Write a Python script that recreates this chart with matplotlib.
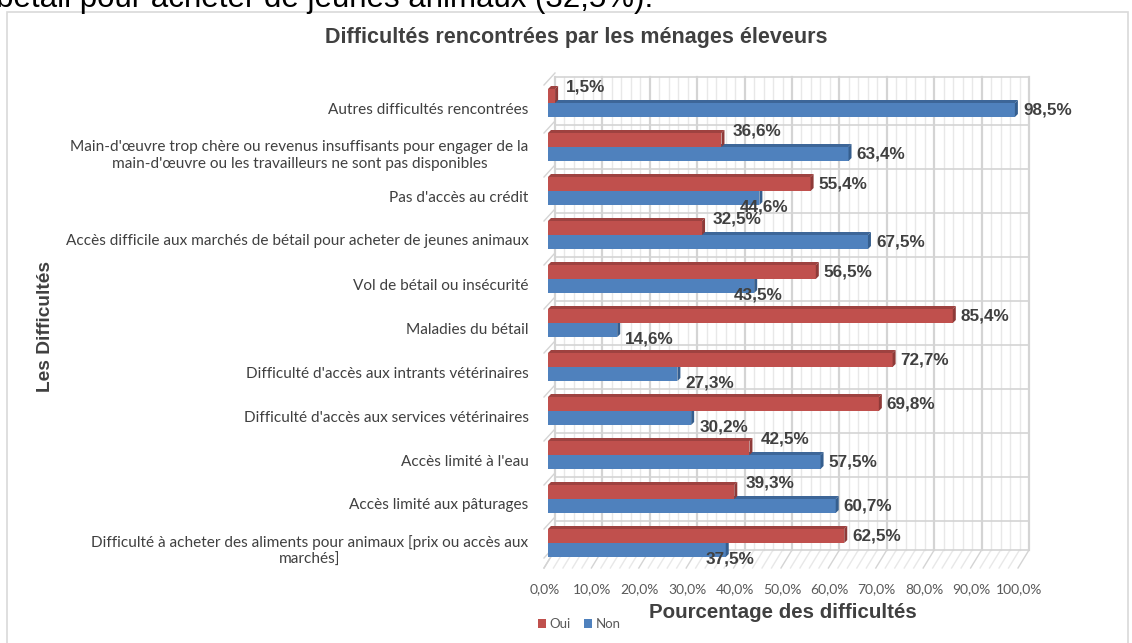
import matplotlib
matplotlib.use("Agg")
import matplotlib.pyplot as plt
from matplotlib.patches import Polygon, Rectangle, Patch
from matplotlib.lines import Line2D
from matplotlib.transforms import IdentityTransform, ScaledTranslation

# ---------------- data ----------------
categories = [
    "Autres difficultés rencontrées",
    "Main-d'œuvre trop chère ou revenus insuffisants pour engager de la\nmain-d'œuvre ou les travailleurs ne sont pas disponibles",
    "Pas d'accès au crédit",
    "Accès difficile aux marchés de bétail pour acheter de jeunes animaux",
    "Vol de bétail ou insécurité",
    "Maladies du bétail",
    "Difficulté d'accès aux intrants vétérinaires",
    "Difficulté d'accès aux services vétérinaires",
    "Accès limité à l'eau",
    "Accès limité aux pâturages",
    "Difficulté à acheter des aliments pour animaux [prix ou accès aux\nmarchés]",
]
oui = [1.5, 36.6, 55.4, 32.5, 56.5, 85.4, 72.7, 69.8, 42.5, 39.3, 62.5]
non = [98.5, 63.4, 44.6, 67.5, 43.5, 14.6, 27.3, 30.2, 57.5, 60.7, 37.5]
xticks = [0, 10, 20, 30, 40, 50, 60, 70, 80, 90, 100]
series_names = ["Oui", "Non"]

title = "Difficultés rencontrées par les ménages éleveurs"
xlabel = "Pourcentage des difficultés"
ylabel = "Les Difficultés"
doc_text = "bétail pour acheter de jeunes animaux (32,5%)."

# ---------------- style ----------------
W, H = 1132, 643
RED, RED_DK, RED_TOP = "#C0504D", "#8E3A38", "#9E4240"
BLUE, BLUE_DK, BLUE_TOP = "#4F81BD", "#355E8E", "#3D6698"
GRID_MAJ, GRID_MIN = "#D4D4D4", "#E8E8E8"
LABEL_FONT = ["Lato", "DejaVu Sans"]
BOLD_FONT = ["Liberation Sans", "DejaVu Sans"]

fig = plt.figure(figsize=(W / 100, H / 100), dpi=100)
fig.patch.set_facecolor("white")

def fx(px):
    return px / W

def fy(py):
    return 1 - py / H

# chart border
fig.add_artist(Rectangle((fx(7), fy(648)), fx(1128) - fx(7), fy(12) - fy(648),
                         transform=fig.transFigure, fill=False,
                         edgecolor="#D9D9D9", lw=1.2))

# document text cut at top
fig.text(fx(-4), fy(7), doc_text, ha="left", va="baseline", fontsize=22.5,
         family=["Liberation Sans", "DejaVu Sans"], color="black")

# axes = bar plane (front of bars)
X0, X1 = 548, 1029          # axes pixel extent
Y0, Y1 = 77, 568            # axes top / bottom pixels
PX_PER_PCT = 4.74
CAT_PX = 44.0
FIRST_CAT = 103
ax = fig.add_axes([fx(X0), fy(Y1), fx(X1) - fx(X0), fy(Y0) - fy(Y1)])
ax.set_xlim(0, (X1 - X0) / PX_PER_PCT)
ax.set_ylim(10 + (Y1 - (FIRST_CAT + 10 * CAT_PX)) / CAT_PX, -(FIRST_CAT - Y0) / CAT_PX)
for s in ax.spines.values():
    s.set_visible(False)
ax.patch.set_alpha(0)

n = len(categories)
idx = list(range(n))
bh = 14 / CAT_PX

def disp(x, y):
    return ax.transData.transform((x, y))

# back wall geometry (pixel offsets from bar plane)
BACK_DX = 7
FRONT_DX = -4
y_back_bottom = 10 + (550 - (FIRST_CAT + 10 * CAT_PX)) / CAT_PX
y_top = ax.get_ylim()[1]
y_bottom = ax.get_ylim()[0]

ident = IdentityTransform()
# vertical grid lines on back wall + floor hatch
for v in range(0, 101, 2):
    (xa, ya) = disp(v, y_top)
    (xb, yb) = disp(v, y_back_bottom)
    major = (v % 10 == 0)
    ax.add_line(Line2D([xa + BACK_DX, xb + BACK_DX], [ya, yb], transform=ident,
                       color=GRID_MAJ if major else GRID_MIN,
                       lw=1.6 if major else 1.0, zorder=0, clip_on=False))
    (xf, yf) = disp(v, y_bottom)
    ax.add_line(Line2D([xf + FRONT_DX, xb + BACK_DX], [yf, yb], transform=ident,
                       color=GRID_MAJ if major else GRID_MIN, lw=1.0, zorder=0,
                       clip_on=False))

# horizontal lines on back wall (category separators)
seps = [y_top] + [i + 0.5 for i in range(n - 1)] + [y_back_bottom]
for ysep in seps:
    (xa, ya) = disp(0, ysep)
    (xb, yb) = disp(100, ysep)
    ax.add_line(Line2D([xa + BACK_DX, xb + BACK_DX], [ya, yb], transform=ident,
                       color=GRID_MAJ, lw=1.2, zorder=0, clip_on=False))
    ax.add_line(Line2D([xa + FRONT_DX, xa + BACK_DX], [ya - 8, ya + 4], transform=ident,
                       color=GRID_MAJ, lw=1.0, zorder=0, clip_on=False))
(xa, ya) = disp(0, y_back_bottom)
(xf, yf) = disp(0, y_bottom)
ax.add_line(Line2D([xf + FRONT_DX, xa + BACK_DX], [yf, ya], transform=ident,
                   color=GRID_MAJ, lw=1.0, zorder=0, clip_on=False))

D = 3  # bar depth in px

def bar3d(yc, val, color, dk, top):
    ax.barh(yc, val, height=bh, color=color, edgecolor="none", zorder=3)
    (xl, yt) = disp(0, yc - bh / 2)
    (xr, yb) = disp(val, yc + bh / 2)
    ax.add_patch(Polygon([(xl, yt), (xr, yt), (xr + D, yt + D), (xl + D, yt + D)],
                         closed=True, transform=ident, facecolor=top,
                         edgecolor="none", zorder=3, clip_on=False))
    ax.add_patch(Polygon([(xr, yb), (xr, yt), (xr + D, yt + D), (xr + D, yb + D)],
                         closed=True, transform=ident, facecolor=dk,
                         edgecolor="none", zorder=3, clip_on=False))

# Non (lower) first, then Oui (upper) so Oui covers Non's top face
for i in idx:
    bar3d(i + bh / 2, non[i], BLUE, BLUE_DK, BLUE_TOP)
for i in idx:
    bar3d(i - bh / 2, oui[i], RED, RED_DK, RED_TOP)

def fmt(v):
    return f"{v:.1f}".replace(".", ",") + "%"

# data labels
for i in idx:
    for val, other, yc, is_oui in ((oui[i], non[i], i - bh / 2, True),
                                   (non[i], oui[i], i + bh / 2, False)):
        (xe, ye) = disp(val, yc)
        dx, dy = 8, 0
        if val < other:
            dy = 9 if is_oui else -9
            if (not is_oui) and (other - val) < 30:
                dx = -20
            elif is_oui:
                dx = 11
        ax.text(xe + dx, ye + dy, fmt(val), transform=ident, ha="left", va="center",
                fontsize=12.3, fontweight="bold", family=BOLD_FONT, color="#404040",
                zorder=5, clip_on=False)

# category labels
ax.set_yticks(idx)
ax.set_yticklabels(categories, family=LABEL_FONT, fontsize=11.1, color="#404040")
ax.tick_params(axis="y", length=0, pad=14)
for lab in ax.get_yticklabels():
    lab.set_multialignment("center")
    lab.set_linespacing(1.3)
    lab.set_transform(lab.get_transform() + ScaledTranslation(0, -5 / 100, fig.dpi_scale_trans))

# x tick labels
ax.set_xticks(xticks)
ax.set_xticklabels([fmt(v) for v in xticks], family=LABEL_FONT, fontsize=10, color="#595959")
ax.tick_params(axis="x", length=0, pad=11)
for lab in ax.get_xticklabels():
    lab.set_transform(lab.get_transform() + ScaledTranslation(-3 / 100, 0, fig.dpi_scale_trans))
ax.grid(False)

# titles
fig.text(fx(576), fy(38), title, ha="center", va="center", fontsize=15.5,
         fontweight="bold", family=BOLD_FONT, color="#404040")
fig.text(fx(783), fy(613), xlabel, ha="center", va="center", fontsize=14.8,
         fontweight="bold", family=BOLD_FONT, color="#404040")
fig.text(fx(45), fy(327), ylabel, ha="center", va="center", rotation=90, fontsize=13.8,
         fontweight="bold", family=BOLD_FONT, color="#404040")

# legend
handles = [Patch(facecolor=RED, edgecolor="none"), Patch(facecolor=BLUE, edgecolor="none")]
fig.legend(handles, series_names, loc="center left", bbox_to_anchor=(fx(531), fy(624)),
           ncol=2, frameon=False, handlelength=0.6, handleheight=0.6,
           handletextpad=0.3, columnspacing=1.0, borderpad=0,
           prop={"family": LABEL_FONT, "size": 9.5}, labelcolor="#595959")

fig.savefig("out.png", dpi=100)
